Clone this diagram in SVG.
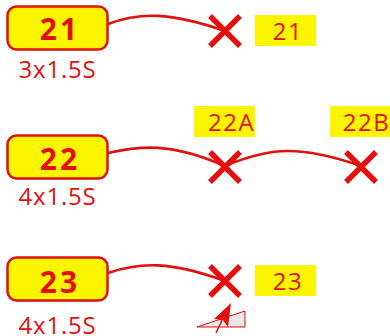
<svg xmlns="http://www.w3.org/2000/svg" width="390" height="336" viewBox="0 0 390 336">
<style>
.node{fill:#fbf500;stroke:#e20f0f;stroke-width:2.5}
.num{font:bold 30px "Open Sans","DejaVu Sans",sans-serif;letter-spacing:3px;fill:#e20f0f;text-anchor:middle}
.sub{font:24px "Open Sans","DejaVu Sans",sans-serif;letter-spacing:.8px;fill:#e20f0f;text-anchor:middle}
.lab{fill:#fbf500}
.labt{font:24px "Open Sans","DejaVu Sans",sans-serif;letter-spacing:1.5px;fill:#e20f0f;text-anchor:middle}
.wire{fill:none;stroke:#e20f0f;stroke-width:2.6}
.x{fill:none;stroke:#e20f0f;stroke-width:5.5}
</style>
<g id="connectors">
<path class="wire" d="M108,24C140,12 170,12 225,31"/>
<path class="wire" d="M108,153C140,146 170,142 225,166"/>
<path class="wire" d="M225,166C270,147 300,145 361,166"/>
<path class="wire" d="M108,273C140,262 170,261 225,281"/>
</g>
<g id="node21"><rect class="node" x="7.5" y="6.5" width="100" height="43" rx="9"/><text class="num" x="60" y="39.500">21</text><text class="sub" x="57.5" y="78">3x1.5S</text></g>
<g id="node22"><rect class="node" x="7.5" y="135.500" width="100" height="43" rx="9"/><text class="num" x="60" y="170">22</text><text class="sub" x="57.5" y="205">4x1.5S</text></g>
<g id="node23"><rect class="node" x="7.5" y="257.500" width="100" height="43" rx="9"/><text class="num" x="60" y="293">23</text><text class="sub" x="57.5" y="334">4x1.5S</text></g>
<g id="cross21"><path class="x" d="M210,16L240,46M240,16L210,46"/></g>
<g id="cross22a"><path class="x" d="M210,152L240,182M240,152L210,182"/></g>
<g id="cross22b"><path class="x" d="M346,152L376,182M376,152L346,182"/></g>
<g id="cross23"><path class="x" d="M210,266L240,296M240,266L210,296"/></g>
<g id="label21"><rect class="lab" x="255" y="15" width="61" height="31"/><text class="labt" x="288" y="40">21</text></g>
<g id="label22a"><rect class="lab" x="194" y="106" width="61" height="31"/><text class="labt" x="231.500" y="131">22A</text></g>
<g id="label22b"><rect class="lab" x="330" y="106" width="60" height="31"/><text class="labt" x="366.500" y="131">22B</text></g>
<g id="label23"><rect class="lab" x="255" y="265" width="61" height="31"/><text class="labt" x="288" y="290">23</text></g>
<g id="mark"><path d="M197,327L245,311V327Z" fill="#e8e8e8" stroke="#e20f0f" stroke-width="1"/><path d="M216,333L224,316" fill="none" stroke="#e20f0f" stroke-width="1.5"/><path d="M231,303L228,327L223,320L214,319Z" fill="#e20f0f"/></g>
</svg>
